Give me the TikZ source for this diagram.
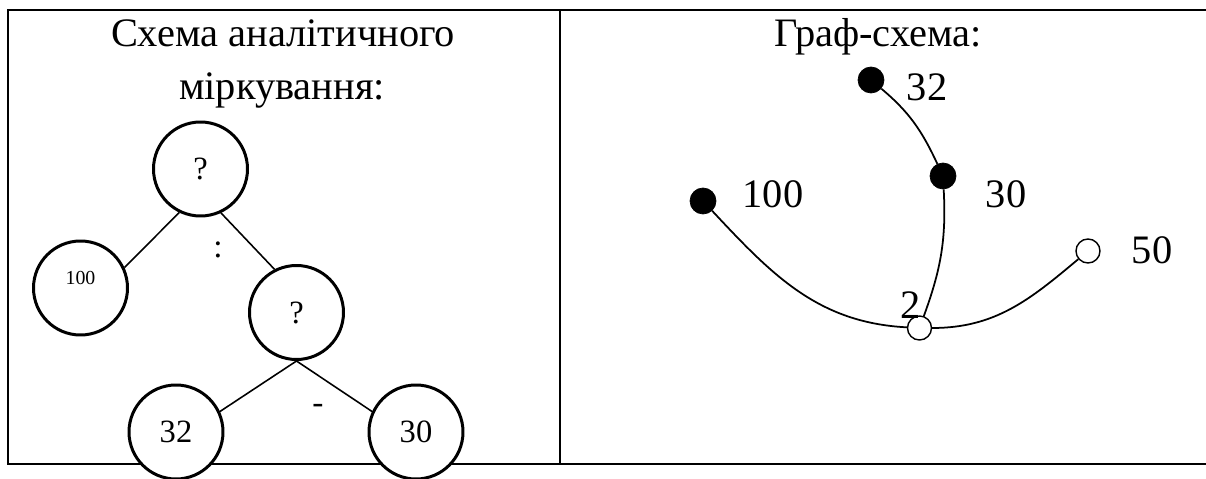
\documentclass[tikz,border=0pt]{standalone}
\usepackage{fontspec}
\setmainfont{Liberation Serif}

\begin{document}
\begin{tikzpicture}[
    bigtext/.style={font=\fontsize{23}{27}\selectfont, inner sep=0pt},
    midtext/.style={font=\fontsize{19}{22}\selectfont, inner sep=0pt},
    tabline/.style={line width=1.2pt},
    tcirc/.style={draw, circle, line width=1.7pt, fill=white, minimum size=1.88cm, inner sep=0pt, font=\fontsize{18.5}{22}\selectfont},
    treeline/.style={line width=0.9pt},
    fdot/.style={draw, circle, fill=black, minimum size=0.52cm, inner sep=0pt},
    odot/.style={draw, circle, fill=white, line width=0.8pt, minimum size=0.48cm, inner sep=0pt},
    graphline/.style={line width=1pt}
  ]
  \useasboundingbox (0,0) rectangle (24.12,9.58);

  % table
  \draw[tabline] (24.2,9.38) -- (0.16,9.38) -- (0.16,0.30) -- (24.2,0.30);
  \draw[tabline] (11.20,9.38) -- (11.20,0.30);

  % left column
  \node[bigtext, anchor=base] (ltitlea) at (5.66,8.64) {Схема аналітичного};
  \node[bigtext, anchor=base] (ltitleb) at (5.64,7.58) {міркування:};

  \node[tcirc] (top) at (4.01,6.20) {?};
  \node[tcirc, font=\fontsize{11.3}{13}\selectfont, text depth=0.4cm] (hundred) at (1.61,3.82) {100};
  \node[tcirc] (mid) at (5.93,3.33) {?};
  \node[tcirc] (tt) at (3.52,0.94) {32};
  \node[tcirc] (th) at (8.32,0.94) {30};

  \draw[treeline] (top.244) -- (hundred.25);
  \draw[treeline] (top.295) -- (mid.117);
  \draw[treeline] (mid.south) -- (tt.25);
  \draw[treeline] (mid.south) -- (th.155);

  \node[midtext] (divop) at (4.36,4.58) {:};
  \node[midtext] (subop) at (6.36,1.40) {-};

  % right column
  \node[bigtext, anchor=base] (rtitle) at (17.56,8.64) {Граф-схема:};

  \node[fdot] (d32) at (17.42,7.98) {};
  \node[fdot] (d30) at (18.86,6.06) {};
  \node[fdot] (d100) at (14.06,5.56) {};
  \node[odot] (d50) at (21.76,4.56) {};
  \node[odot] (d2) at (18.39,3.02) {};

  \node[bigtext] (l32) at (18.54,7.84) {32};
  \node[bigtext] (l30) at (20.12,5.70) {30};
  \node[bigtext] (l100) at (15.46,5.70) {100};
  \node[bigtext] (l50) at (23.04,4.58) {50};
  \node[bigtext] (l2) at (18.22,3.48) {2};

  \draw[graphline] (d32) to[out=-40, in=115] (d30);
  \draw[graphline] (d30) to[out=-87, in=70] (d2);
  \draw[graphline] (d100) to[out=-47, in=177] (d2);
  \draw[graphline] (d50) to[out=-140, in=0] (d2);
\end{tikzpicture}
\end{document}
